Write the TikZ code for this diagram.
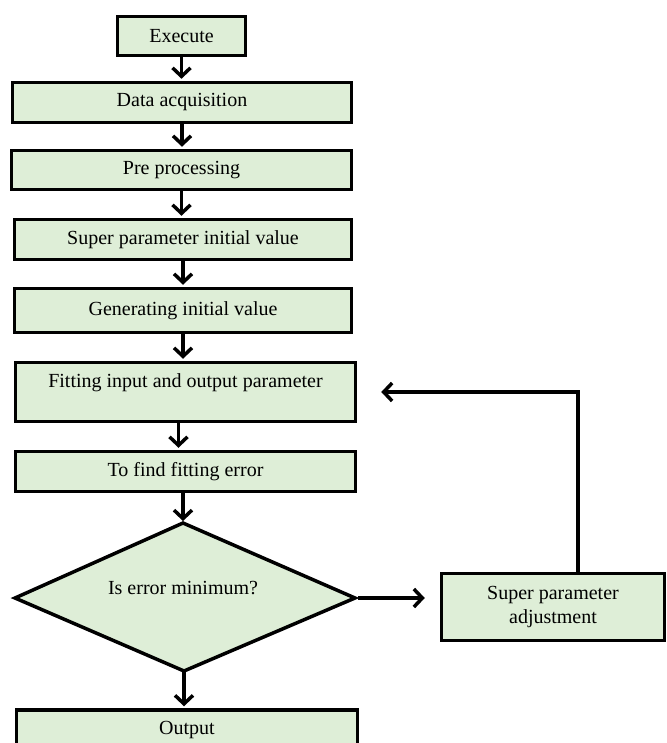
\documentclass[tikz,border=0pt]{standalone}
\usepackage{fontspec}
\setmainfont{Liberation Serif}
\usetikzlibrary{arrows.meta}
\definecolor{boxfill}{RGB}{222,238,215}
\begin{document}
\begin{tikzpicture}[x=1pt,y=-1pt,
  box/.style={draw=black, line width=3.5pt, fill=boxfill, inner sep=2pt,
    font=\fontsize{20}{23.4}\selectfont, align=center},
  lbl/.style={font=\fontsize{20}{23.4}\selectfont, align=center, inner sep=0pt},
  arr/.style={line width=3.5pt, shorten >=2pt,
    -{Straight Barb[length=8.5pt,width=18pt]}}]
\clip (0,0) rectangle (666,743);

% main column of process steps
\node[box, minimum width=128pt, minimum height=39pt] (exec) at (181.5,36) {Execute};
\node[box, minimum width=339pt, minimum height=40pt] (data) at (182,102.5) {Data acquisition};
\node[box, minimum width=340pt, minimum height=39pt] (pre) at (181.5,170) {Pre processing};
\node[box, minimum width=337pt, minimum height=40pt] (init) at (183,239.5) {Super parameter initial value};
\node[box, minimum width=337pt, minimum height=44pt] (gen) at (183,310.5) {Generating initial value};
\node[box, minimum width=340pt, minimum height=59pt] (fit) at (185.5,392) {Fitting input and output parameter\\\mbox{}};
\node[box, minimum width=340pt, minimum height=40pt] (find) at (185.5,471.5) {To find fitting error};

% decision
\coordinate (dT) at (183,523);
\coordinate (dR) at (355,598);
\coordinate (dB) at (184,671);
\coordinate (dL) at (15,598);
\draw[line width=3.5pt, fill=boxfill, line join=miter] (dT) -- (dR) -- (dB) -- (dL) -- cycle;
\node[lbl] (dq) at (183,588) {Is error minimum?};

% side branch and final step
\node[box, minimum width=223pt, minimum height=67pt] (adj) at (553,607) {Super parameter\\adjustment};
\node[box, minimum width=341pt, minimum height=40pt] (out) at (187,730) {Output};

% connectors
\draw[arr] (exec.south) -- (exec.south |- data.north);
\draw[arr] (data.south) -- (data.south |- pre.north);
\draw[arr] (pre.south) -- (pre.south |- init.north);
\draw[arr] (init.south) -- (init.south |- gen.north);
\draw[arr] (gen.south) -- (gen.south |- fit.north);
\draw[arr] ([xshift=-7pt]fit.south) -- ([xshift=-7pt]fit.south |- find.north);
\draw[arr] (find.south -| dT) -- (dT);
\draw[arr] (dB) -- (dB |- out.north);
\coordinate (adjin) at ([xshift=-13pt]adj.west);
\draw[arr] ([xshift=3pt]dR) -- (adjin |- dR);
\draw[arr, line join=miter] ([xshift=25pt]adj.north) |- ([xshift=22pt]fit.east);
\end{tikzpicture}
\end{document}
